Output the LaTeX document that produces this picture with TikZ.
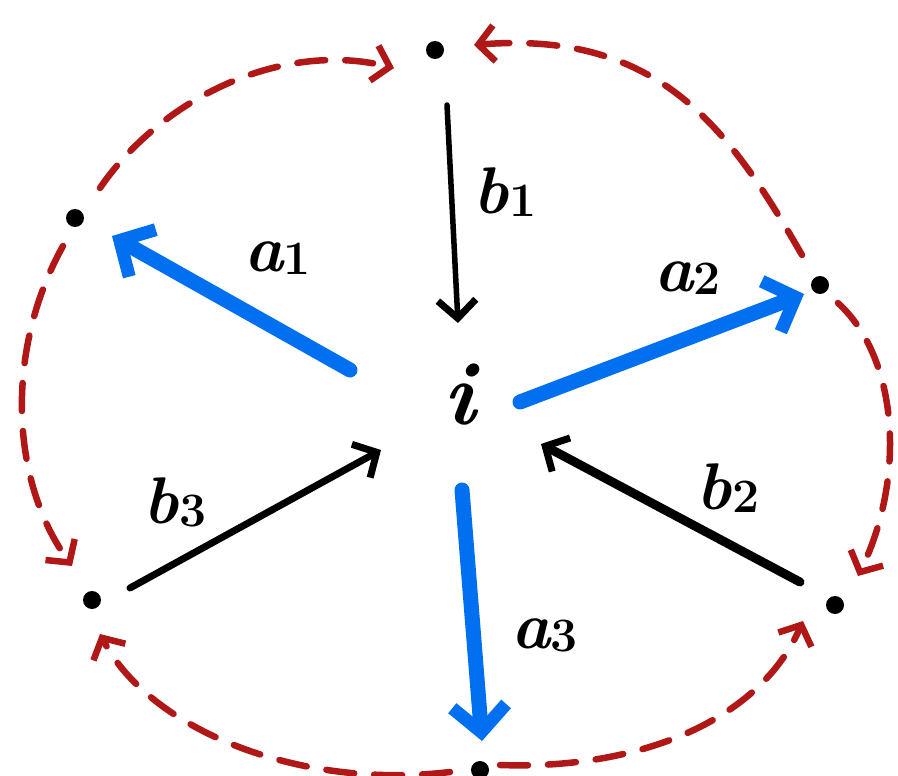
\documentclass[tikz,border=0pt]{standalone}
\usetikzlibrary{arrows.meta}
\definecolor{myblue}{RGB}{0,112,240}
\definecolor{myred}{RGB}{176,24,24}
\newcommand{\mylab}[2]{{\fontsize{66}{66}\selectfont\bfseries\itshape #1}\raisebox{-0.32em}{\fontsize{48}{48}\selectfont\bfseries #2}}
\begin{document}
\begin{tikzpicture}[x=1pt,y=-1pt,
  pt/.style={circle,fill=black,inner sep=0pt,minimum size=18pt},
  bluearr/.style={myblue,line width=15pt,line cap=round,-{Straight Barb[length=26pt,width=54pt,line width=13pt]}},
  blackarr/.style={black,line width=7pt,line cap=round,-{Straight Barb[length=18pt,width=38pt,line width=7pt]}},
  redarr/.style={myred,line width=6.5pt,line cap=round,dash pattern=on 28pt off 20pt,-{Straight Barb[length=16pt,width=36pt,line width=6.5pt]}},
  lab/.style={inner sep=0pt}]
\useasboundingbox (0,0) rectangle (898,776);
\node[pt] (T) at (435,50) {};
\node[pt] (UL) at (75,218) {};
\node[pt] (R) at (820,285) {};
\node[pt] (LL) at (92,600) {};
\node[pt] (LR) at (835,605) {};
\node[pt] (B) at (480,770) {};
\node (c) at (460,395) {\fontsize{90}{90}\selectfont\bfseries\itshape i};
% start coordinates
\coordinate (a1s) at (350,370);
\coordinate (a1e) at (112,236);
\coordinate (a2s) at (520,402);
\coordinate (a2e) at (804,294);
\coordinate (a3s) at (462,490);
\coordinate (a3e) at (482,741);
\coordinate (b1s) at (447,105);
\coordinate (b1e) at (458,323);
\coordinate (b2s) at (800,582);
\coordinate (b2e) at (541,444);
\coordinate (b3s) at (130,588);
\coordinate (b3e) at (381,450);
\draw[bluearr] (a1s) -- (a1e);
\draw[bluearr] (a2s) -- (a2e);
\draw[bluearr] (a3s) -- (a3e);
\draw[blackarr,line width=5.5pt] (b1s) -- (b1e);
\draw[blackarr,line width=9pt] (b2s) -- (b2e);
\draw[blackarr] (b3s) -- (b3e);
% red dashed arcs
\draw[redarr] (UL) ++(25,-30) coordinate (r1s) (r1s) .. controls (160,100) and (280,40) .. (394,68);
\draw[redarr] (R) ++(-18,-30) coordinate (r2s) (r2s) .. controls (730,130) and (660,30) .. (474,45);
\draw[redarr] (UL) ++(-12,28) coordinate (r3s) (r3s) .. controls (5,350) and (10,480) .. (72,566);
\draw[redarr] (R) ++(18,18) coordinate (r4s) (r4s) .. controls (900,360) and (905,480) .. (858,576);
\draw[redarr] (B) ++(-30,2) coordinate (r5s) (r5s) .. controls (300,790) and (150,730) .. (100,634);
\draw[redarr] (B) ++(20,-5) coordinate (r6s) (r6s) .. controls (640,770) and (760,720) .. (803,621);
% labels
\node[lab] (la1) at (278,258) {\mylab{a}{1}};
\node[lab] (la2) at (688,278) {\mylab{a}{2}};
\node[lab] (la3) at (545,635) {\mylab{a}{3}};
\node[lab] (lb1) at (505,192) {\mylab{b}{1}};
\node[lab] (lb2) at (728,488) {\mylab{b}{2}};
\node[lab] (lb3) at (175,502) {\mylab{b}{3}};
\end{tikzpicture}
\end{document}
